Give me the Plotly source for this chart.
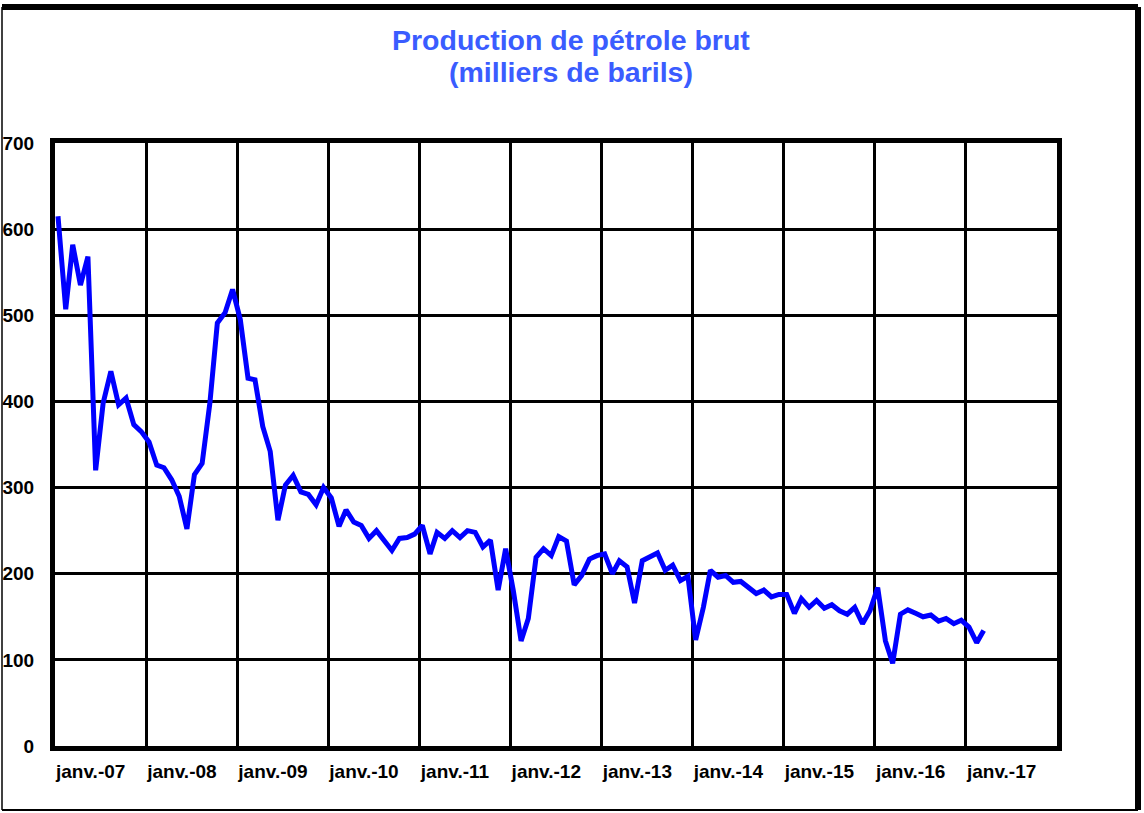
import plotly.graph_objects as go
import pandas as pd

title_line1 = "Production de pétrole brut"
title_line2 = "(milliers de barils)"
start_month = "2007-01-01"
production = [
    615, 507, 582, 535, 568, 320, 398, 435, 396, 404, 373, 365,
    353, 326, 323, 309, 290, 252, 315, 328, 398, 491, 503, 530,
    495, 427, 425, 371, 342, 262, 303, 314, 295, 292, 280, 300,
    288, 255, 274, 260, 256, 241, 250, 238, 227, 241, 242, 246,
    256, 223, 248, 241, 250, 242, 250, 248, 231, 239, 181, 229,
    180, 122, 148, 219, 229, 221, 243, 238, 187, 198, 217, 221,
    223, 200, 215, 208, 166, 215, 220, 224, 204, 210, 192, 197,
    123, 161, 204, 196, 198, 190, 191, 184, 177, 181, 173, 176,
    176, 154, 171, 161, 169, 160, 164, 157, 153, 161, 142, 157,
    184, 122, 96, 153, 158, 154, 150, 152, 145, 148, 142, 146,
    138, 120, 134,
]
years = list(range(2007, 2018))
year_labels = [f"janv.-{str(y)[2:]}" for y in years]
y_ticks = [0, 100, 200, 300, 400, 500, 600, 700]

# monthly points, plotted slightly into each month as in the original
months = pd.date_range(start_month, periods=len(production), freq="MS") + pd.Timedelta(days=12)

FONT = "Liberation Sans, Arial, sans-serif"
W, H = 1144, 813
L, R, T, B = 55, 1057, 143, 746
TITLE_COLOR = "#3a5cff"

fig = go.Figure()
fig.add_trace(go.Scatter(
    x=months, y=production, mode="lines",
    line=dict(color="#0000ff", width=5), showlegend=False,
    hoverinfo="x+y",
))
# invisible trace on label axis
fig.add_trace(go.Scatter(x=[months[0]], y=[None], xaxis="x2", showlegend=False, hoverinfo="skip"))

xr = ["2007-01-01", "2018-01-01"]
fig.update_layout(
    width=W, height=H,
    margin=dict(l=L, r=W - R, t=T, b=H - B, autoexpand=False),
    paper_bgcolor="white", plot_bgcolor="white",
    xaxis=dict(
        type="date", range=xr, dtick="M12", tick0="2007-01-01",
        showgrid=True, gridcolor="black", gridwidth=3,
        showticklabels=False, ticks="",
        showline=True, linecolor="black", linewidth=5, mirror=True,
        zeroline=False, automargin=False,
    ),
    xaxis2=dict(
        type="date", range=xr, overlaying="x", anchor="y", side="bottom",
        tickvals=[f"{y}-05-24" for y in years], ticktext=year_labels,
        showgrid=False, ticks="", showline=False, zeroline=False,
        ticklabelstandoff=12, automargin=False,
        tickfont=dict(family=FONT, size=19, color="black", weight="bold"),
    ),
    yaxis=dict(
        range=[0, 700], tickvals=y_ticks, ticktext=[str(v) for v in y_ticks],
        showgrid=True, gridcolor="black", gridwidth=3,
        ticks="", ticklabelstandoff=12, automargin=False,
        showline=True, linecolor="black", linewidth=5, mirror=True,
        zeroline=False,
        tickfont=dict(family=FONT, size=19, color="black", weight="bold"),
    ),
)

def px(xp):
    return (xp - L) / (R - L)

def py(yp):
    return (B - yp) / (B - T)

for text, yc in [(title_line1, 40), (title_line2, 72)]:
    fig.add_annotation(
        text=text, xref="paper", yref="paper", x=px(571), y=py(yc),
        xanchor="center", yanchor="middle", showarrow=False,
        font=dict(family=FONT, size=28.5, color=TITLE_COLOR, weight="bold"),
    )

frame = [
    (2, 7, 2, 810, 1.5),
    (2, 7, 1138, 7, 6),
    (1138, 7, 1138, 810, 6),
    (2, 810, 1138, 810, 2),
]
for x0, y0, x1, y1, w in frame:
    fig.add_shape(type="line", xref="paper", yref="paper",
                  x0=px(x0), y0=py(y0), x1=px(x1), y1=py(y1),
                  line=dict(color="black", width=w), layer="above")

fig.write_html("out.html", config={"displayModeBar": False},
               post_script="document.body.style.margin='0';")
